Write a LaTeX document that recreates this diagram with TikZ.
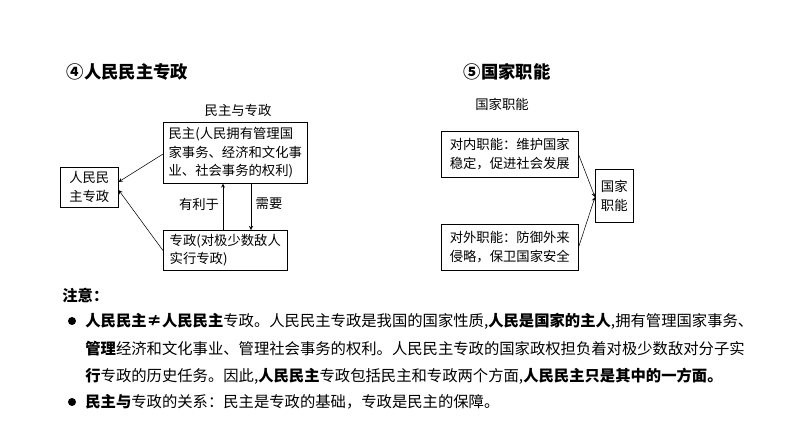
\documentclass[tikz,border=0pt]{standalone}
\usepackage{fontspec}
\setmainfont{Noto Sans CJK SC}
\usetikzlibrary{positioning}
\begin{document}
\begin{tikzpicture}[
            x = 0.75pt, y = -0.75pt, % pixel grid
            > = stealth, % arrow head style
            semithick
            ]

        \tikzset{
            box/.style = {draw, thin, inner sep = 2pt, align = left,
                font = \fontsize{10}{14}\selectfont, anchor = north west},
            lbl/.style = {font = \fontsize{10}{14}\selectfont},
            title/.style = {font = \fontsize{13}{15}\selectfont\bfseries, anchor = west},
            body/.style = {font = \fontsize{11.5}{14}\selectfont, anchor = west, inner sep = 0pt},
            dot/.style = {circle, fill, inner sep = 0pt, minimum size = 6pt}
        }

        \useasboundingbox (0,0) rectangle (794,447);

	% titles
	\node[title] (T1) at (62,72) {④人民民主专政};
	\node[title] (T2) at (459,72) {⑤国家职能};

	% left diagram
	\node[lbl] (L) at (238,110) {民主与专政};
	\node[box, minimum width = 144*0.75pt, minimum height = 61*0.75pt] (MZ) at (163,122)
	    {民主(人民拥有管理国\\家事务、经济和文化事\\业、社会事务的权利)};
	\node[box, align = center, minimum width = 58*0.75pt, minimum height = 40*0.75pt] (RM) at (60,167)
	    {人民民\\主专政};
	\node[box, minimum width = 124*0.75pt, minimum height = 40*0.75pt] (ZZ) at (163,230)
	    {专政(对极少数敌人\\实行专政)};
	\draw[->, thin] ([yshift=-24pt]MZ.north west) -- ([yshift=4pt]RM.east);
	\draw[->, thin] ([yshift=15pt]ZZ.south west) -- ([yshift=-2pt]RM.east);
	\draw[->, thin] (ZZ.north -| 223,0) -- (MZ.south -| 223,0);
	\draw[->, thin] (MZ.south -| 251,0) -- (ZZ.north -| 251,0);
	\node[lbl] (YL) at (199,204) {有利于};
	\node[lbl] (XY) at (269,204) {需要};

	% right diagram
	\node[lbl] (R) at (502,104) {国家职能};
	\node[box, minimum width = 137*0.75pt, minimum height = 46*0.75pt] (DN) at (441,131)
	    {对内职能：维护国家\\稳定，促进社会发展};
	\node[box, minimum width = 137*0.75pt, minimum height = 46*0.75pt] (DW) at (441,224)
	    {对外职能：防御外来\\侵略，保卫国家安全};
	\node[box, align = center, minimum width = 38*0.75pt, minimum height = 53*0.75pt] (GJ) at (595,169)
	    {国家\\职能};
	\draw[->, thin] (DN.east) -- ([yshift=-1pt]GJ.west);
	\draw[->, thin] (DW.east) -- ([yshift=-1pt]GJ.west);

	% notes
	\node[body, font = \fontsize{11.5}{14}\selectfont\bfseries] (N0) at (62,296) {注意：};
	\node[dot] (D1) at (72,321) {};
	\node[body] (N1) at (85,321) {\textbf{人民民主≠人民民主}专政。人民民主专政是我国的国家性质,\textbf{人民是国家的主人},拥有管理国家事务、};
	\node[body] (N2) at (85,349) {\textbf{管理}经济和文化事业、管理社会事务的权利。人民民主专政的国家政权担负着对极少数敌对分子实};
	\node[body] (N3) at (85,376) {\textbf{行}专政的历史任务。因此,\textbf{人民民主}专政包括民主和专政两个方面,\textbf{人民民主只是其中的一方面。}};
	\node[dot] (D2) at (72,402) {};
	\node[body] (N4) at (85,402) {\textbf{民主与}专政的关系：民主是专政的基础，专政是民主的保障。};

\end{tikzpicture}
\end{document}
